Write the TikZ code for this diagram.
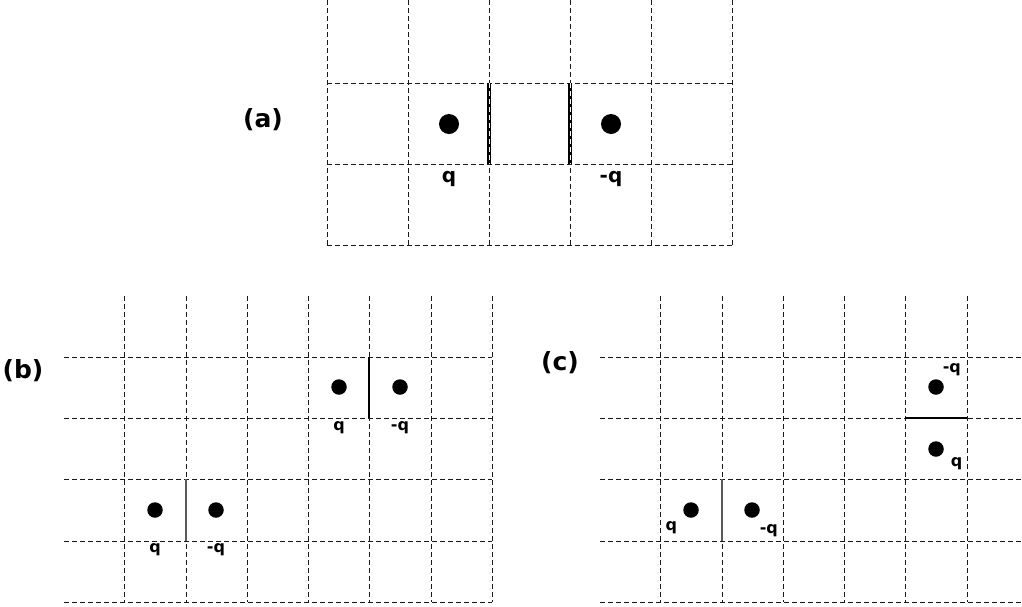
\documentclass[tikz,border=0pt]{standalone}
\usepackage{fontspec}
\setmainfont{DejaVu Sans}
\usepackage{tikz}
\usetikzlibrary{positioning}

\begin{document}
\begin{tikzpicture}[x=1pt, y=-1pt, font=\bfseries, node distance=4pt and 4pt,
  rejilla/.style={dash pattern=on 5pt off 3pt, line width=0.9pt, color=black!90},
  carga/.style={circle, fill=black, inner sep=0pt, minimum size=15.5pt},
  cargag/.style={carga, minimum size=20pt},
  barra/.style={line width=1.9pt},
  barrag/.style={line width=1.5pt, color=black!65},
  etq/.style={inner sep=1pt, font=\bfseries\fontsize{16}{16}\selectfont},
  etqg/.style={inner sep=1pt, font=\bfseries\fontsize{20}{20}\selectfont},
  panel/.style={inner sep=0pt, font=\bfseries\fontsize{25}{25}\selectfont}]
  \useasboundingbox (0,0) rectangle (1022,606);

  % (a)
  \foreach \x in {327,408,489,570,651,732} \draw[rejilla] (\x,0) -- (\x,245);
  \foreach \y in {83,164,245} \draw[rejilla] (327,\y) -- (732,\y);
  \foreach \x in {489,570} {
    \draw[line width=3.2pt] (\x,83) -- (\x,164);
    \draw[color=white, line width=0.8pt, dash pattern=on 5pt off 3pt] (\x,83) -- (\x,164);
  }
  \node[panel] (pa) at (263,120) {(a)};
  \node[cargag] (qa)  at (449,124) {};
  \node[cargag] (mqa) at (611,124) {};
  \node[etqg, below=36pt of qa]  (lqa)  {q};
  \node[etqg, below=36pt of mqa] (lmqa) {-q};

  % (b)
  \foreach \x in {124,186,247,308,369,431,492} \draw[rejilla] (\x,296) -- (\x,602);
  \foreach \y in {357,418,479,541,602} \draw[rejilla] (64,\y) -- (492,\y);
  \draw[barra]  (369,357) -- (369,418);
  \draw[barrag] (186,479) -- (186,541);
  \node[panel] (pb) at (23,371) {(b)};
  \node[carga] (qb1)  at (339,387) {};
  \node[carga] (mqb1) at (400,387) {};
  \node[carga] (qb2)  at (155,510) {};
  \node[carga] (mqb2) at (216,510) {};
  \node[etq, below=25pt of qb1]  (lqb1)  {q};
  \node[etq, below=25pt of mqb1] (lmqb1) {-q};
  \node[etq, below=24pt of qb2]  (lqb2)  {q};
  \node[etq, below=24pt of mqb2] (lmqb2) {-q};

  % (c)
  \foreach \x in {660,722,783,844,905,967} \draw[rejilla] (\x,296) -- (\x,602);
  \foreach \y in {357,418,479,541,602} \draw[rejilla] (600,\y) -- (1022,\y);
  \draw[line width=2.2pt] (905,418) -- (967,418);
  \draw[barrag] (722,479) -- (722,541);
  \node[panel] (pc) at (560,363) {(c)};
  \node[carga] (mqc1) at (936,387) {};
  \node[carga] (qc1)  at (936,449) {};
  \node[carga] (qc2)  at (691,510) {};
  \node[carga] (mqc2) at (752,510) {};
  \node[etq, above right=4pt and 0pt of mqc1] (lmqc1) {-q};
  \node[etq, below right=2pt and 8pt of qc1]  (lqc1)  {q};
  \node[etq, below left=5pt and 7pt of qc2]   (lqc2)  {q};
  \node[etq, below right=8pt and 1pt of mqc2] (lmqc2) {-q};
\end{tikzpicture}
\end{document}
